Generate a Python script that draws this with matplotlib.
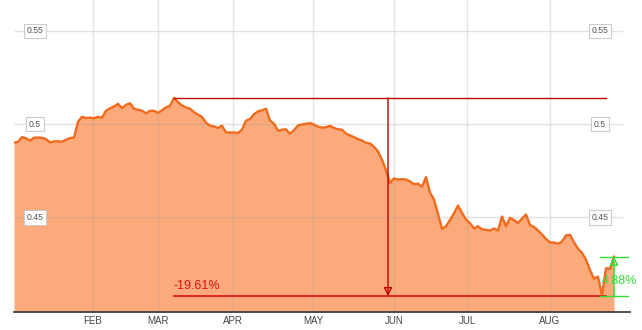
import numpy as np
import matplotlib
matplotlib.use("Agg")
import matplotlib.pyplot as plt

# Daily price series
prices = [
    0.4900, 0.4905, 0.4930, 0.4924, 0.4911, 0.4927, 0.4928, 0.4926, 0.4919, 0.4902,
    0.4907, 0.4908, 0.4905, 0.4916, 0.4925, 0.4928,
    0.5012, 0.5039, 0.5032, 0.5034, 0.5031, 0.5039, 0.5034, 0.5071, 0.5084, 0.5094,
    0.5108, 0.5085, 0.5103, 0.5111, 0.5082, 0.5076, 0.5072, 0.5057, 0.5071, 0.5071,
    0.5059, 0.5074, 0.5089, 0.5098, 0.5140,
    0.5117, 0.5099, 0.5089, 0.5082, 0.5064, 0.5050, 0.5038, 0.5007, 0.4991, 0.4987,
    0.4979, 0.4991, 0.4955, 0.4955, 0.4955, 0.4952, 0.4970, 0.5018, 0.5027, 0.5052,
    0.5068, 0.5073, 0.5082, 0.5019, 0.5002,
    0.4964, 0.4970, 0.4972, 0.4948, 0.4967, 0.4992, 0.4998, 0.5001, 0.5005, 0.4997,
    0.4986, 0.4981, 0.4983, 0.4990, 0.4979, 0.4972, 0.4970, 0.4949, 0.4939, 0.4930,
    0.4919, 0.4912, 0.4899, 0.4896, 0.4878,
    0.4854, 0.4809, 0.4753, 0.4685, 0.4709, 0.4703, 0.4705, 0.4703, 0.4693, 0.4678,
    0.4681, 0.4664, 0.4716, 0.4633, 0.4596, 0.4519, 0.4439, 0.4453, 0.4486, 0.4522,
    0.4564, 0.4524, 0.4489, 0.4469, 0.4441,
    0.4453, 0.4437, 0.4434, 0.4430, 0.4441, 0.4430, 0.4505, 0.4453, 0.4498, 0.4486,
    0.4470, 0.4494, 0.4516, 0.4460, 0.4449, 0.4430, 0.4409, 0.4385, 0.4366, 0.4366,
    0.4359, 0.4371, 0.4404, 0.4407, 0.4367,
    0.4333, 0.4310, 0.4274, 0.4218, 0.4172, 0.4183, 0.4079, 0.4228, 0.4225, 0.4290,
]
month_labels = ["FEB", "MAR", "APR", "MAY", "JUN", "JUL", "AUG"]
month_index = [19.75, 36.0, 54.75, 74.75, 95.0, 113.25, 134.0]
y_ticks = [0.45, 0.5, 0.55]
y_tick_labels = ["0.45", "0.5", "0.55"]
drawdown_label = "-19.61%"
rebound_label = "4.88%"

plt.rcParams['font.family'] = ['Liberation Sans', 'DejaVu Sans']

vals = np.array(prices)
x = np.arange(len(vals))

fig = plt.figure(figsize=(6.42, 3.30), dpi=100)
ax = fig.add_axes([14 / 642, 18 / 330, 616 / 642, 312 / 330])
ymin, ymax = 0.3994, 0.5664
ax.set_xlim(0, 154)
ax.set_ylim(ymin, ymax)

LINE = "#F26A1B"
FILL = "#FCAA7B"

ax.fill_between(x, vals, ymin, color=FILL, lw=0, zorder=1)
ax.plot(x, vals, color=LINE, lw=1.7, zorder=3, solid_joinstyle="round")

# grid
for yv in y_ticks:
    ax.plot([0.25, 152], [yv, yv], color="#9a9a9a", alpha=0.28, lw=1, zorder=2)
for mx in month_index:
    ax.axvline(mx, color="#9a9a9a", alpha=0.25, lw=1, zorder=2)

# y labels (boxed, inside plot)
for yv, lab in zip(y_ticks, y_tick_labels):
    for xp in (5.25, 146.5):
        ax.text(xp, yv, lab, ha="center", va="center", fontsize=6.2, color="#555555",
                zorder=6,
                bbox=dict(boxstyle="square,pad=0.3", fc="white", ec="#cccccc", lw=0.8))

# x month labels
ax.set_xticks(month_index)
ax.set_xticklabels(month_labels, fontsize=7, color="#444444")
ax.tick_params(axis="x", length=0, pad=3)
ax.set_yticks([])
for s in ("top", "right", "left"):
    ax.spines[s].set_visible(False)
ax.spines["bottom"].set_color("#333333")
ax.spines["bottom"].set_linewidth(1.2)

# drawdown annotation
ipk = int(np.argmax(vals))
imn = int(np.argmin(vals))
ilast = len(vals) - 1
pk, mn, last = vals[ipk], vals[imn], vals[ilast]
RED_D = "#C00000"
RED = "#E01010"
ax.plot([ipk, imn + 1], [pk, pk], color=RED_D, lw=1, zorder=5)
ax.plot([ipk, imn + 1], [mn, mn], color=RED, lw=1.2, zorder=5)
xmid = (ipk + imn) / 2
ax.annotate("", xy=(xmid, mn), xytext=(xmid, pk),
            arrowprops=dict(arrowstyle="-|>,head_length=0.5,head_width=0.25",
                            ec=RED_D, fc="none", lw=1, shrinkA=0, shrinkB=0),
            zorder=5)
ax.annotate(drawdown_label, xy=(ipk, mn), xytext=(0, 3), textcoords="offset points",
            ha="left", va="bottom", fontsize=9, color=RED, zorder=6)

# rebound annotation
GREEN = "#33DD33"
ax.plot([imn - 0.5, ilast + 3.5], [mn, mn], color=GREEN, lw=1, zorder=5)
ax.plot([imn - 0.5, ilast + 3.5], [last, last], color=GREEN, lw=1, zorder=5)
ax.annotate("", xy=(ilast, last), xytext=(ilast, mn),
            arrowprops=dict(arrowstyle="-|>,head_length=0.5,head_width=0.25",
                            ec=GREEN, fc="none", lw=1, shrinkA=0, shrinkB=0),
            zorder=5)
ax.annotate(rebound_label, xy=(imn, (mn + last) / 2), xytext=(0, -3),
            textcoords="offset points", ha="left", va="center", fontsize=9,
            color=GREEN, zorder=6)

fig.savefig("out.png", dpi=100)
